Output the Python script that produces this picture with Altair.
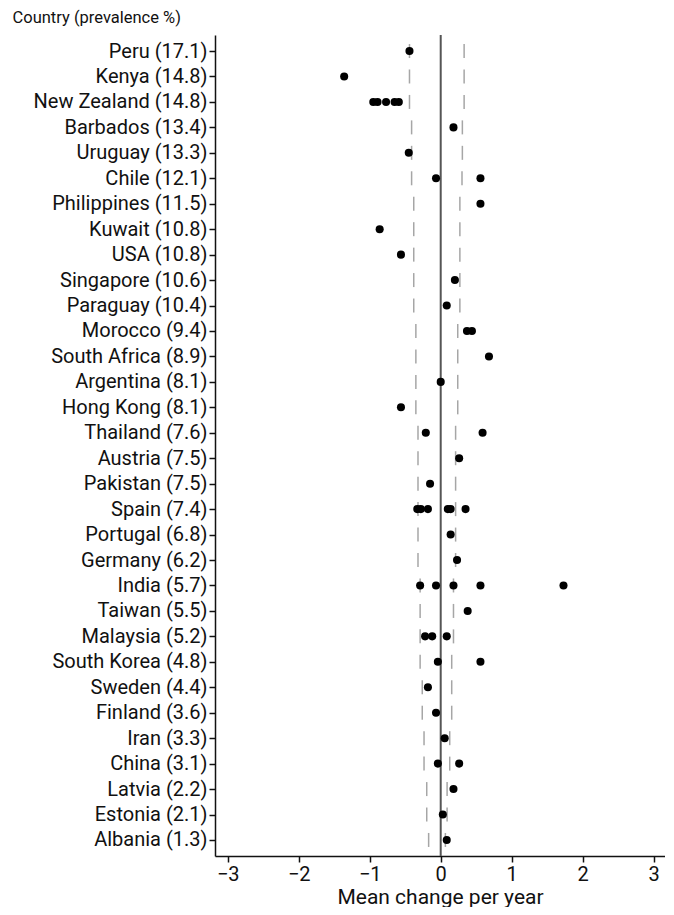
import altair as alt
import pandas as pd

countries = ["Peru (17.1)", "Kenya (14.8)", "New Zealand (14.8)", "Barbados (13.4)", "Uruguay (13.3)",
             "Chile (12.1)", "Philippines (11.5)", "Kuwait (10.8)", "USA (10.8)", "Singapore (10.6)",
             "Paraguay (10.4)", "Morocco (9.4)", "South Africa (8.9)", "Argentina (8.1)", "Hong Kong (8.1)",
             "Thailand (7.6)", "Austria (7.5)", "Pakistan (7.5)", "Spain (7.4)", "Portugal (6.8)",
             "Germany (6.2)", "India (5.7)", "Taiwan (5.5)", "Malaysia (5.2)", "South Korea (4.8)",
             "Sweden (4.4)", "Finland (3.6)", "Iran (3.3)", "China (3.1)", "Latvia (2.2)",
             "Estonia (2.1)", "Albania (1.3)"]

lower = [-0.44, -0.44, -0.44, -0.41, -0.41, -0.41, -0.38, -0.38, -0.38, -0.38, -0.38,
         -0.35, -0.35, -0.35, -0.35, -0.32, -0.32, -0.32, -0.32, -0.32, -0.32,
         -0.29, -0.29, -0.29, -0.29, -0.26, -0.26, -0.235, -0.235, -0.197, -0.197, -0.17]
upper = [0.33, 0.33, 0.33, 0.305, 0.305, 0.30, 0.27, 0.27, 0.27, 0.27, 0.27,
         0.24, 0.24, 0.24, 0.24, 0.21, 0.21, 0.21, 0.21, 0.21, 0.21,
         0.18, 0.18, 0.18, 0.155, 0.155, 0.155, 0.127, 0.127, 0.09, 0.09, 0.066]

changes = [
    [-0.44],
    [-1.36],
    [-0.95, -0.89, -0.77, -0.65, -0.59],
    [0.18],
    [-0.45],
    [-0.066, 0.56],
    [0.56],
    [-0.86],
    [-0.56],
    [0.20],
    [0.085],
    [0.37, 0.44],
    [0.68],
    [0.0],
    [-0.56],
    [-0.21, 0.59],
    [0.26],
    [-0.15],
    [-0.33, -0.28, -0.18, 0.10, 0.14, 0.35],
    [0.14],
    [0.23],
    [-0.29, -0.066, 0.18, 0.56, 1.73],
    [0.38],
    [-0.22, -0.12, 0.085],
    [-0.04, 0.56],
    [-0.18],
    [-0.066],
    [0.056],
    [-0.04, 0.26],
    [0.18],
    [0.03],
    [0.085],
]

x_ticks = [-3, -2, -1, 0, 1, 2, 3]

pts = pd.DataFrame([{"country": c, "change": v} for c, vals in zip(countries, changes) for v in vals])
lims = pd.DataFrame({"country": countries * 2, "limit": lower + upper})
zero = pd.DataFrame({"x": [0]})

FONT = "Roboto"

y_enc = alt.Y("country:N", sort=countries,
              scale=alt.Scale(type="point", padding=0.63),
              axis=alt.Axis(title="Country (prevalence %)", titleAngle=0, titleAlign="left",
                            titleBaseline="alphabetic", titleX=-203, titleY=-13,
                            titleFontSize=16.5, titleFontWeight="normal", titleFont=FONT,
                            titleColor="#111",
                            labelFont=FONT, labelFontSize=20, labelColor="#111",
                            labelPadding=2, tickSize=6, tickWidth=1.5, tickColor="#111",
                            domainColor="#111", domainWidth=1.5, grid=False))

x_scale = alt.Scale(domain=[-3.18, 3.16], nice=False, zero=False)
x_axis = alt.Axis(title="Mean change per year", values=x_ticks, format="d",
                  titleFont=FONT, titleFontSize=21, titleFontWeight="normal", titleColor="#111",
                  titlePadding=2,
                  labelFont=FONT, labelFontSize=20, labelColor="#111", labelPadding=2,
                  tickSize=6, tickWidth=1.5, tickColor="#111",
                  domainColor="#111", domainWidth=1.5, grid=False)

dashes = alt.Chart(lims).mark_tick(color="#808080", size=14, thickness=1.5, orient="vertical").encode(
    x=alt.X("limit:Q", scale=x_scale, axis=x_axis),
    y=y_enc,
)

zero_line = alt.Chart(zero).mark_rule(color="#555", strokeWidth=2).encode(
    x=alt.X("x:Q", scale=x_scale)
)

dots = alt.Chart(pts).mark_point(filled=True, color="black", opacity=1, size=65, shape="circle").encode(
    x=alt.X("change:Q", scale=x_scale),
    y=alt.Y("country:N", sort=countries),
)

chart = alt.layer(dashes, zero_line, dots).properties(
    width=450, height=821,
    autosize=alt.AutoSizeParams(type="none"),
    padding={"left": 207, "top": 27, "right": 0, "bottom": 51},
).configure(background="white").configure_view(strokeWidth=0, stroke="transparent")

chart.save("out.html", embed_options={"renderer": "svg", "actions": False})
